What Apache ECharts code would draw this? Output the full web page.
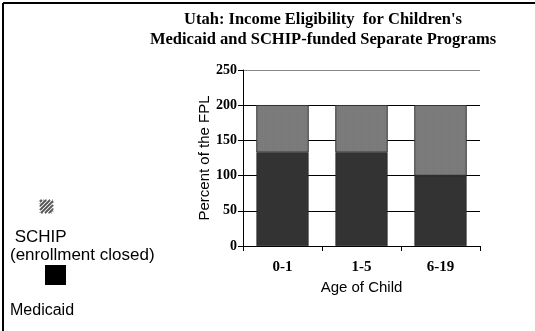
<!DOCTYPE html>
<html>
<head>
<meta charset="utf-8">
<script src="https://cdn.jsdelivr.net/npm/echarts@6/dist/echarts.min.js"></script>
<style>
html,body{margin:0;padding:0;background:#fff;}
#c{width:535px;height:331px;}
</style>
</head>
<body>
<div id="c"></div>
<script>
var categories = ['0-1', '1-5', '6-19'];
var medicaid = [133, 133, 100];
var schip = [67, 67, 100];
var yTicks = [0, 50, 100, 150, 200, 250];
var titleText = "Utah: Income Eligibility  for Children's\nMedicaid and SCHIP-funded Separate Programs";
var legendSchip = ' SCHIP\n(enrollment closed)';
var legendMedicaid = 'Medicaid';

var chart = echarts.init(document.getElementById('c'), null, {renderer: 'canvas'});
var serif = '"Liberation Serif", "Times New Roman", serif';
var sans = '"Liberation Sans", Arial, sans-serif';

// hatched SCHIP legend icon
var hx = 40, hy = 200, hs = 13, hatch = [];
for (var d = 2; d < 2 * hs; d += 4) {
  var p1, p2;
  if (d <= hs) { p1 = [hx, hy + d]; p2 = [hx + d, hy]; }
  else { p1 = [hx + d - hs, hy + hs]; p2 = [hx + hs, hy + d - hs]; }
  hatch.push({type: 'line', shape: {x1: p1[0], y1: p1[1], x2: p2[0], y2: p2[1]}, style: {stroke: '#555', lineWidth: 1.8}});
}
hatch.push({type: 'rect', shape: {x: hx, y: hy, width: hs, height: hs}, style: {fill: 'none', stroke: '#666', lineWidth: 0.8, lineDash: [1, 2]}});

chart.setOption({
  backgroundColor: '#fff',
  animation: false,
  title: {
    text: titleText,
    left: 318,
    top: 5,
    textAlign: 'center',
    textStyle: {fontFamily: serif, fontWeight: 'bold', fontSize: 16.5, color: '#000', lineHeight: 20}
  },
  grid: {left: 243, right: 55, top: 70, bottom: 85},
  xAxis: {
    type: 'category',
    data: categories,
    axisLine: {lineStyle: {color: '#000', width: 1}},
    axisTick: {show: true, alignWithLabel: false, length: 5, lineStyle: {color: '#000'}},
    axisLabel: {fontFamily: serif, fontWeight: 'bold', fontSize: 15, color: '#000', margin: 14},
    name: 'Age of Child',
    nameLocation: 'middle',
    nameGap: 30,
    nameTextStyle: {fontFamily: sans, fontSize: 15, color: '#000'}
  },
  yAxis: {
    type: 'value',
    min: yTicks[0],
    max: yTicks[yTicks.length - 1],
    interval: 50,
    axisLine: {show: true, lineStyle: {color: '#000', width: 1}},
    axisTick: {show: true, length: 5, lineStyle: {color: '#000'}},
    splitLine: {show: true, lineStyle: {color: ['#000', '#000', '#000', '#000', '#000', '#888'], width: 1}},
    axisLabel: {fontFamily: serif, fontWeight: 'bold', fontSize: 14, color: '#000', margin: 6},
    name: 'Percent of the FPL',
    nameLocation: 'middle',
    nameGap: 31,
    nameRotate: 90,
    nameTextStyle: {fontFamily: sans, fontSize: 15, color: '#000'}
  },
  series: [
    {
      name: 'Medicaid',
      type: 'bar',
      stack: 'total',
      data: medicaid,
      barWidth: '66%',
      itemStyle: {color: '#333333', borderColor: '#222', borderWidth: 0.6}
    },
    {
      name: 'SCHIP',
      type: 'bar',
      stack: 'total',
      data: schip,
      barWidth: '66%',
      itemStyle: {
        color: '#7c7c7c', borderColor: '#333', borderWidth: 0.6,
        decal: {symbol: 'rect', symbolSize: 0.5, dashArrayX: [1, 1], dashArrayY: [1, 1], color: 'rgba(60,60,60,0.35)', rotation: 0}
      }
    }
  ],
  graphic: [
    {type: 'line', shape: {x1: 3, y1: 3, x2: 535, y2: 3}, style: {stroke: '#000', lineWidth: 2}},
    {type: 'line', shape: {x1: 3, y1: 3, x2: 3, y2: 331}, style: {stroke: '#000', lineWidth: 2}},
    {type: 'group', children: hatch},
    {type: 'text', left: 10, top: 228, style: {text: legendSchip, fontFamily: sans, fontSize: 17, fill: '#000', lineHeight: 18, align: 'left'}},
    {type: 'rect', shape: {x: 45, y: 265, width: 21, height: 20}, style: {fill: '#000'}},
    {type: 'text', left: 10, top: 303, style: {text: legendMedicaid, fontFamily: sans, fontSize: 16, fill: '#000'}}
  ]
});
</script>
</body>
</html>
